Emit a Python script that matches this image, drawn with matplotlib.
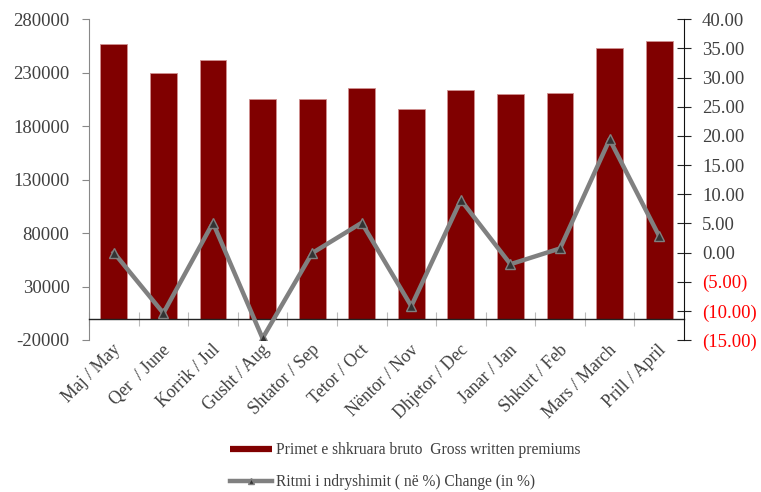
import matplotlib
matplotlib.use("Agg")
import matplotlib.pyplot as plt
from matplotlib.lines import Line2D
from matplotlib.ticker import FuncFormatter, FixedLocator
import numpy as np

plt.rcParams['font.family'] = ['Liberation Serif', 'DejaVu Serif']
plt.rcParams['axes.unicode_minus'] = False

categories = ["Maj / May", "Qer  / June", "Korrik / Jul", "Gusht / Aug", "Shtator / Sep",
              "Tetor / Oct", "Nëntor / Nov", "Dhjetor / Dec", "Janar / Jan", "Shkurt / Feb",
              "Mars / March", "Prill / April"]
premiums = [256800, 230000, 242000, 205300, 205300, 216000, 196000, 213800, 209700,
            211200, 252800, 259900]
change_pct = [0.0, -10.4, 5.1, -14.7, -0.1, 5.1, -9.2, 9.0, -2.0, 0.7, 19.4, 2.8]
left_ticks = [-20000, 30000, 80000, 130000, 180000, 230000, 280000]
right_ticks = [-15, -10, -5, 0, 5, 10, 15, 20, 25, 30, 35, 40]
label_bar = "Primet e shkruara bruto  Gross written premiums"
label_line = "Ritmi i ndryshimit ( në %) Change (in %)"

txt = '#404040'
fig = plt.figure(figsize=(7.61, 4.92), dpi=100)
ax = fig.add_axes([89/761, 1-340/492, (684-89)/761, (340-19.3)/492])
x = np.arange(len(categories))
ax.bar(x, premiums, width=0.54, color='#800000', edgecolor='#d09090', linewidth=0.6, zorder=2)
ax.set_xlim(-0.5, len(categories)-0.5)
ax.set_ylim(-20000, 280000)
ax.yaxis.set_major_locator(FixedLocator(left_ticks))
ax.tick_params(axis='y', labelsize=13.5, labelcolor=txt, color='#888888', direction='out',
               length=5, width=0.8, pad=9)

for s in ['top', 'right']:
    ax.spines[s].set_visible(False)
ax.spines['left'].set_color('#888888')
ax.spines['bottom'].set_position(('data', 0))
ax.spines['bottom'].set_color('#222222')
ax.spines['bottom'].set_linewidth(1.0)
ax.set_xticks([])
ax.set_xticks(np.arange(-0.5, len(categories)+0.5, 1.0), minor=True)
ax.tick_params(axis='x', which='minor', direction='inout', length=10, color='#bbbbbb', width=0.8)

for xi, lab in zip(x, categories):
    ax.annotate(lab, xy=(xi, 0), xycoords=ax.get_xaxis_transform(),
                xytext=(-1, -1), textcoords='offset points',
                rotation=45, ha='right', va='top', rotation_mode='anchor',
                fontsize=12.8, color=txt)

ax2 = ax.twinx()
ax2.set_position(ax.get_position())
ax2.plot(x, change_pct, color='#808080', linewidth=3.2, marker='^', markersize=7,
         markerfacecolor='#333333', markeredgecolor='#808080', markeredgewidth=1.0, zorder=3)
ax2.set_ylim(-15, 40)
ax2.yaxis.set_major_locator(FixedLocator(right_ticks))
ax2.yaxis.set_major_formatter(FuncFormatter(lambda v, p: f"({abs(v):.2f})" if v < 0 else f"{v:.2f}"))
ax2.tick_params(axis='y', labelsize=13.5, labelcolor=txt, direction='inout', length=10,
                width=0.8, color='#222222', pad=8)
for lbl, v in zip(ax2.get_yticklabels(), right_ticks):
    if v < 0:
        lbl.set_color('red')
for s in ['top', 'left', 'bottom']:
    ax2.spines[s].set_visible(False)
ax2.spines['right'].set_color('#111111')

handles = [Line2D([], [], color='#800000', linewidth=4.5, solid_capstyle='butt'),
           Line2D([], [], color='#808080', linewidth=3.2, marker='^', markersize=5,
                  markerfacecolor='#333333', markeredgecolor='#808080')]
fig.legend(handles, [label_bar, label_line], loc='upper left',
           bbox_to_anchor=(230/761, 1-442/492), frameon=False, fontsize=11.2,
           handlelength=2.7, handletextpad=0.25, labelspacing=1.05, labelcolor=txt,
           borderpad=0, borderaxespad=0)

fig.savefig("out.png", dpi=100)
